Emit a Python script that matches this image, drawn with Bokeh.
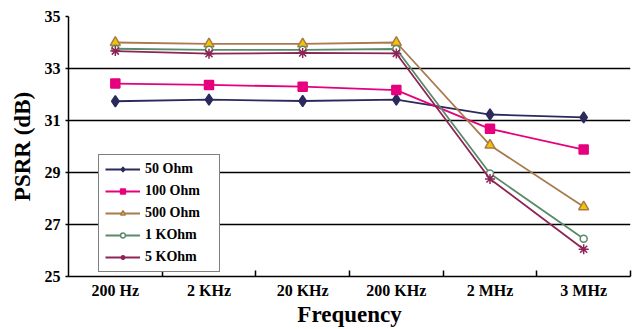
from bokeh.plotting import figure
from bokeh.models import FixedTicker, Legend, LegendItem, ColumnDataSource
from bokeh.embed import file_html
from bokeh.resources import INLINE

categories = ["200 Hz", "2 KHz", "20 KHz", "200 KHz", "2 MHz", "3 MHz"]
ohm50 = [31.74, 31.80, 31.75, 31.80, 31.23, 31.12]
ohm100 = [32.42, 32.37, 32.30, 32.17, 30.68, 29.88]
ohm500 = [34.00, 33.95, 33.95, 34.00, 30.05, 27.68]
kohm1 = [33.76, 33.72, 33.72, 33.75, 28.96, 26.45]
kohm5 = [33.67, 33.57, 33.60, 33.58, 28.75, 26.05]
y_ticks = [25, 27, 29, 31, 33, 35]

FONT = "'Times New Roman', 'Liberation Serif', serif"
xpos = [i + 0.5 for i in range(len(categories))]

p = figure(width=633, height=329, output_backend="svg", toolbar_location=None,
           x_range=(0, len(categories)), y_range=(25, 35),
           min_border_left=68, min_border_right=3, min_border_top=16, min_border_bottom=52)
p.outline_line_color = None
p.background_fill_color = "white"
p.border_fill_color = "white"

p.xgrid.grid_line_color = None
p.ygrid.grid_line_color = "black"
p.ygrid.grid_line_width = 1.5

p.yaxis.ticker = FixedTicker(ticks=y_ticks)
p.xaxis.ticker = FixedTicker(ticks=xpos, minor_ticks=list(range(1, len(categories) + 1)))
p.xaxis.major_label_overrides = {x: c for x, c in zip(xpos, categories)}

for ax in (p.xaxis, p.yaxis):
    ax.axis_line_color = "black"
    ax.axis_line_width = 1.5
    ax.major_label_text_font = FONT
    ax.major_label_text_font_style = "bold"
    ax.major_label_text_font_size = "16px"
    ax.major_label_text_color = "black"
    ax.axis_label_text_font = FONT
    ax.axis_label_text_font_style = "bold"
    ax.axis_label_text_font_size = "23px"
    ax.axis_label_text_color = "black"

p.xaxis.major_tick_in = 0
p.xaxis.major_tick_out = 0
p.xaxis.minor_tick_in = 6
p.xaxis.minor_tick_out = 0
p.xaxis.minor_tick_line_color = "black"
p.xaxis.minor_tick_line_width = 1.5
p.xaxis.major_label_standoff = 5
p.xaxis.axis_label = "Frequency"
p.xaxis.axis_label_standoff = 0

p.yaxis.major_tick_in = 0
p.yaxis.major_tick_out = 3
p.yaxis.major_tick_line_color = "black"
p.yaxis.major_tick_line_width = 1.5
p.yaxis.minor_tick_line_color = None
p.yaxis.major_label_standoff = 5
p.yaxis.axis_label = "PSRR (dB)"
p.yaxis.axis_label_standoff = 7

series = [
    ("50 Ohm", ohm50, "#2B2A5C", "diamond", 11, "#2B2A5C", "#2B2A5C"),
    ("100 Ohm", ohm100, "#E6007E", "square", 9, "#E6007E", "#E6007E"),
    ("500 Ohm", ohm500, "#A87A4E", "triangle", 10, "#A87A4E", "#F5C400"),
    ("1 KOhm", kohm1, "#5B8A68", "circle", 7, "#5B8A68", "white"),
    ("5 KOhm", kohm5, "#8E2456", "asterisk", 10, "#8E2456", "#8E2456"),
]

items = []
for name, vals, color, marker, size, lc, fc in series:
    src = ColumnDataSource(dict(x=xpos, y=vals))
    r1 = p.line("x", "y", source=src, line_color=color, line_width=1.8)
    r2 = p.scatter("x", "y", source=src, marker=marker, size=size,
                   line_color=lc, fill_color=fc, line_width=1.5)
    items.append(LegendItem(label=name, renderers=[r1, r2]))

legend = Legend(items=items, location=(30, 4))
legend.label_text_font = FONT
legend.label_text_font_style = "bold"
legend.label_text_font_size = "14px"
legend.label_text_color = "black"
legend.glyph_width = 35
legend.glyph_height = 12
legend.label_height = 12
legend.label_width = 68
legend.spacing = 6
legend.padding = 6
legend.margin = 0
legend.label_standoff = 5
legend.border_line_color = "black"
legend.border_line_width = 1.5
legend.background_fill_alpha = 1
p.add_layout(legend, "center")

open("out.html", "w").write(file_html(p, INLINE))
